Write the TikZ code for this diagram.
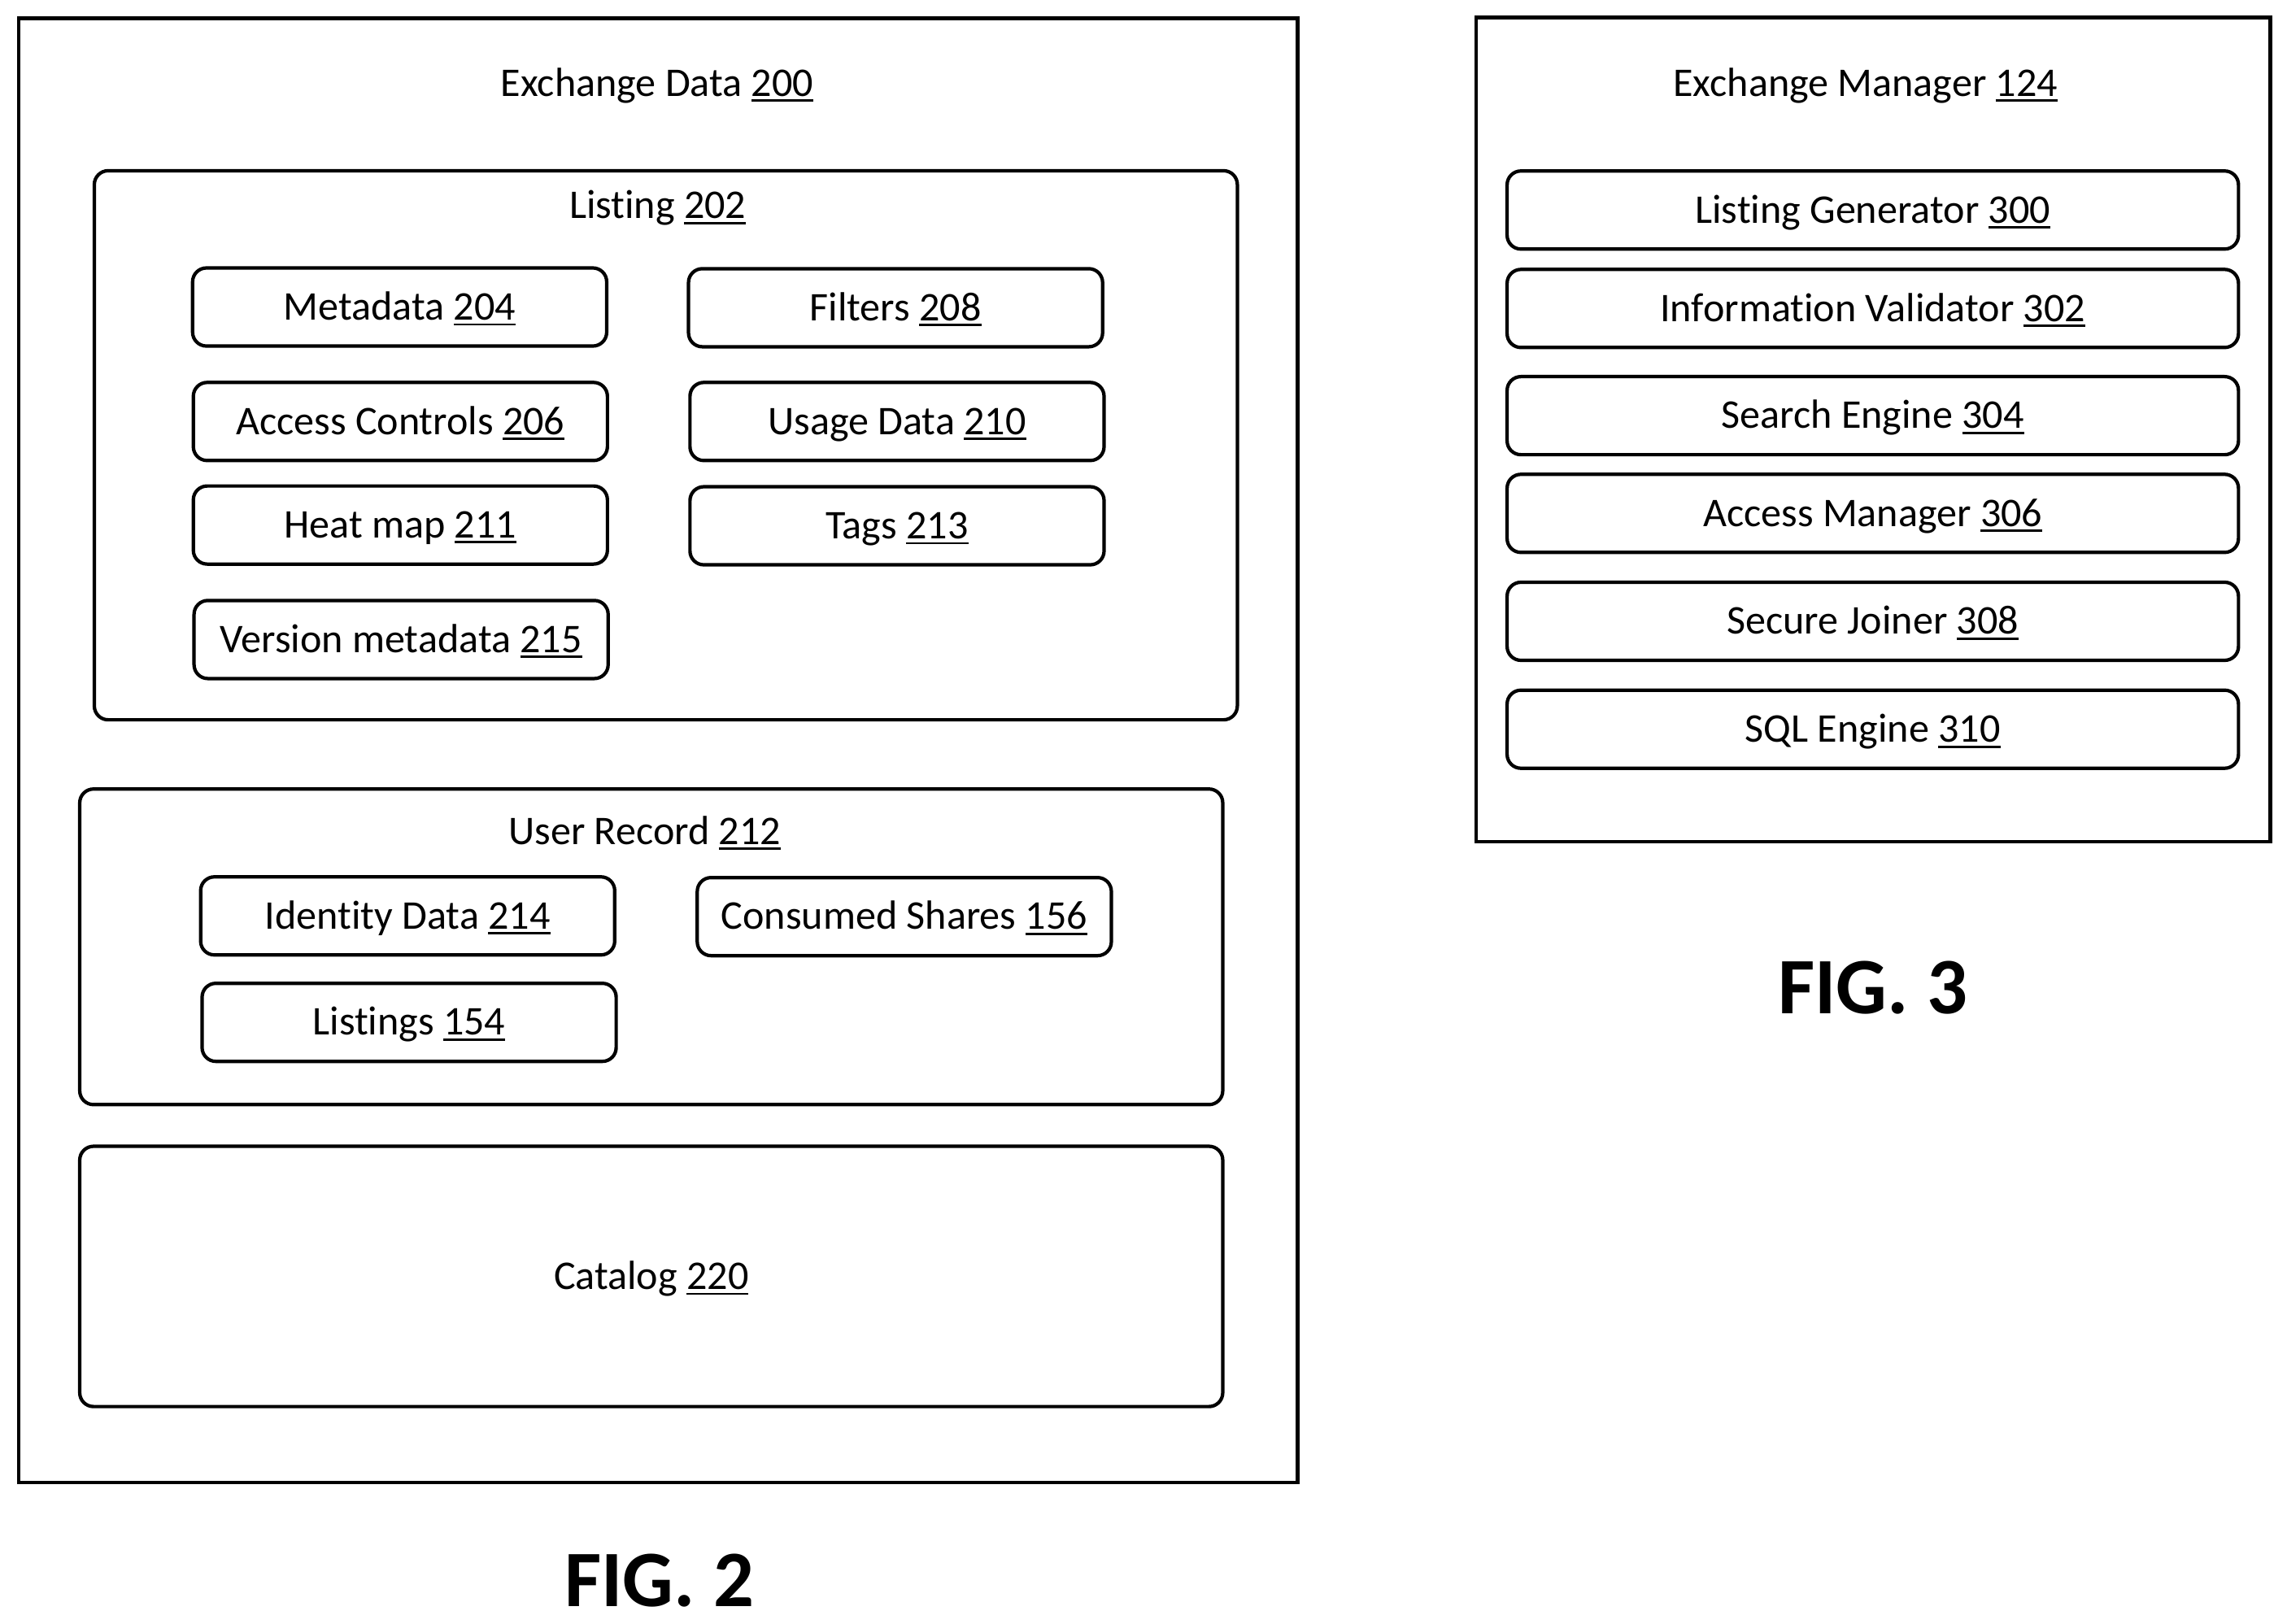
\documentclass[tikz,border=0pt]{standalone}
\usepackage{fontspec}
\setmainfont{Carlito}[Ligatures=NoCommon]
\newcommand{\refnum}[1]{\leavevmode\vtop{\hbox{#1}\kern1.1pt\hrule height 0.8pt}}

\tikzset{
  label text/.style={font=\fontsize{14.25}{17}\selectfont, inner sep=0pt, text height=1em, text depth=0.1em},
  frame/.style={draw, line width=1.2pt, inner sep=0pt, label text},
  panel/.style={frame, rounded corners=0.17cm, minimum width=14.05cm},
  item/.style={panel, minimum width=5.09cm, minimum height=0.96cm},
  wideitem/.style={item, minimum width=8.99cm},
  figlabel/.style={font=\fontsize{28}{32}\selectfont\bfseries, inner sep=0pt}
}

\begin{document}
\begin{tikzpicture}[x=0.017934cm, y=-0.017934cm]

	\useasboundingbox (0,0) rectangle (1568,1113);

	% fig 2
	\node[frame, minimum width=15.72cm, minimum height=18.0cm] (exchangedata) at (451.3,514.5) {};
	\node[label text] (exchangedatatitle) at (450.5,57) {Exchange Data \refnum{200}};

	\node[panel, minimum height=6.75cm] (listing) at (456.5,305.3) {};
	\node[label text] (listingtitle) at (451,141) {Listing \refnum{202}};

	\foreach \name/\x/\y/\txt in {
		metadata/274/210.5/{Metadata \refnum{204}},
		filters/614/211/{Filters \refnum{208}},
		access/274.5/289/{Access Controls \refnum{206}},
		usage/615/289/{Usage Data \refnum{210}},
		heatmap/274.5/360/{Heat map \refnum{211}},
		tags/615/360.5/{Tags \refnum{213}},
		version/275/438.5/{Version metadata \refnum{215}}}{
		\node[item] (\name) at (\x,\y) {\txt};
	}

	\node[panel, minimum height=3.88cm] (userrecord) at (446.5,649.2) {};
	\node[label text] (userrecordtitle) at (442,570) {User Record \refnum{212}};

	\foreach \name/\x/\y/\txt in {
		identity/279.5/628/{Identity Data \refnum{214}},
		consumed/620/628.5/{Consumed Shares \refnum{156}},
		listings/280.5/701/{Listings \refnum{154}}}{
		\node[item] (\name) at (\x,\y) {\txt};
	}

	\node[panel, minimum height=3.2cm] (catalog) at (446.5,875.2) {Catalog \refnum{220}};

	\node[figlabel] (figtwo) at (452,1084) {FIG. 2};

	% fig 3
	\node[frame, minimum width=9.76cm, minimum height=10.13cm] (exchangemanager) at (1284.3,294.5) {};
	\node[label text] (exchangemanagertitle) at (1279,57) {Exchange Manager \refnum{124}};

	\foreach \name/\y/\txt in {
		generator/144/{Listing Generator \refnum{300}},
		validator/211.5/{Information Validator \refnum{302}},
		search/285/{Search Engine \refnum{304}},
		accessmanager/352/{Access Manager \refnum{306}},
		joiner/426/{Secure Joiner \refnum{308}},
		sqlengine/500/{SQL Engine \refnum{310}}}{
		\node[wideitem] (\name) at (1284,\y) {\txt};
	}

	\node[figlabel] (figthree) at (1284,677) {FIG. 3};

\end{tikzpicture}
\end{document}
